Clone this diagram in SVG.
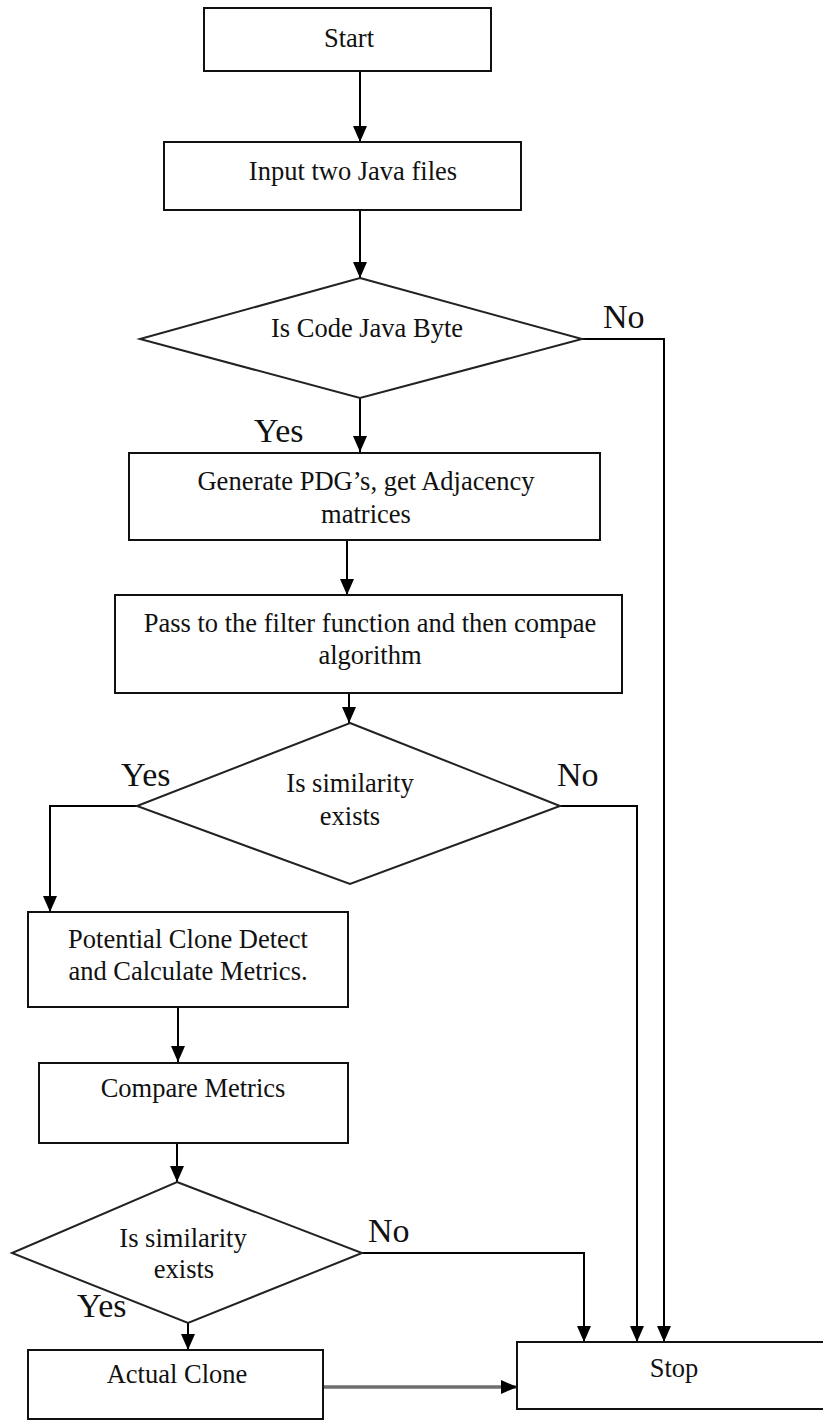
<svg xmlns="http://www.w3.org/2000/svg" width="823" height="1420" viewBox="0 0 823 1420">
  <defs>
    <marker id="arrow" markerUnits="userSpaceOnUse" viewBox="0 0 16 14" markerWidth="16" markerHeight="14" refX="16" refY="7" orient="auto">
      <path d="M0,0 L16,7 L0,14 z" fill="#000"/>
    </marker>
    <style>
      .box { fill: #fff; stroke: #111; stroke-width: 2; }
      .dec { fill: #fff; stroke: #222; stroke-width: 2; stroke-linejoin: miter; }
      .t { font-family: "Liberation Serif", "Times New Roman", serif; font-size: 26.5px; fill: #111; text-anchor: middle; }
      .lbl { font-family: "Liberation Serif", "Times New Roman", serif; font-size: 34px; fill: #111; }
      .edge { fill: none; stroke: #000; stroke-width: 2; marker-end: url(#arrow); }
      .edge-grey { fill: none; stroke: #6e6e6e; stroke-width: 3.5; marker-end: url(#arrow); }
    </style>
  </defs>
  <rect width="823" height="1420" fill="#fff"/>

  <!-- connectors -->
  <g id="connectors">
    <path class="edge" d="M360,71 V142"/>
    <path class="edge" d="M360,210 V278"/>
    <path class="edge" d="M360,398 V452"/>
    <path class="edge" d="M582,339 H664 V1342"/>
    <path class="edge" d="M347,540 V595"/>
    <path class="edge" d="M349,693 V723"/>
    <path class="edge" d="M137,806 H50 V912"/>
    <path class="edge" d="M560,806 H637 V1342"/>
    <path class="edge" d="M178,1007 V1062"/>
    <path class="edge" d="M177,1143 V1182"/>
    <path class="edge" d="M362,1253 H584 V1342"/>
    <path class="edge" d="M188,1323 V1350"/>
    <path class="edge-grey" d="M323,1387 H517"/>
  </g>

  <!-- branch labels -->
  <g id="labels">
    <text class="lbl" x="603" y="328">No</text>
    <text class="lbl" x="254" y="442">Yes</text>
    <text class="lbl" x="121" y="786">Yes</text>
    <text class="lbl" x="557" y="786">No</text>
    <text class="lbl" x="368" y="1242">No</text>
    <text class="lbl" x="77" y="1317">Yes</text>
  </g>

  <g id="start">
    <rect class="box" x="204" y="8" width="287" height="63"/>
    <text class="t" x="349" y="47">Start</text>
  </g>

  <g id="input">
    <rect class="box" x="164" y="142" width="357" height="68"/>
    <text class="t" x="353" y="180">Input two Java files</text>
  </g>

  <g id="is-bytecode">
    <polygon class="dec" points="360,278 582,339 360,398 140,339"/>
    <text class="t" x="367" y="337">Is Code Java Byte</text>
  </g>

  <g id="generate-pdg">
    <rect class="box" x="129" y="453" width="471" height="87"/>
    <text class="t" x="366" y="490">Generate PDG’s, get Adjacency</text>
    <text class="t" x="366" y="523">matrices</text>
  </g>

  <g id="filter-compare">
    <rect class="box" x="115" y="595" width="507" height="98"/>
    <text class="t" x="370" y="632">Pass to the filter function and then compae</text>
    <text class="t" x="370" y="664">algorithm</text>
  </g>

  <g id="similarity-1">
    <polygon class="dec" points="350,723 560,806 350,884 137,806"/>
    <text class="t" x="350" y="792">Is similarity</text>
    <text class="t" x="350" y="825">exists</text>
  </g>

  <g id="potential-clone">
    <rect class="box" x="28" y="912" width="320" height="95"/>
    <text class="t" x="188" y="948">Potential Clone Detect</text>
    <text class="t" x="188" y="980">and Calculate Metrics.</text>
  </g>

  <g id="compare-metrics">
    <rect class="box" x="39" y="1063" width="309" height="80"/>
    <text class="t" x="193" y="1097">Compare Metrics</text>
  </g>

  <g id="similarity-2">
    <polygon class="dec" points="177,1182 362,1253 188,1323 12,1253"/>
    <text class="t" x="183" y="1247">Is similarity</text>
    <text class="t" x="184" y="1278">exists</text>
  </g>

  <g id="actual-clone">
    <rect class="box" x="28" y="1350" width="295" height="69"/>
    <text class="t" x="177" y="1383">Actual Clone</text>
  </g>

  <g id="stop">
    <rect class="box" x="517" y="1342" width="320" height="67"/>
    <text class="t" x="674" y="1377">Stop</text>
  </g>
</svg>
